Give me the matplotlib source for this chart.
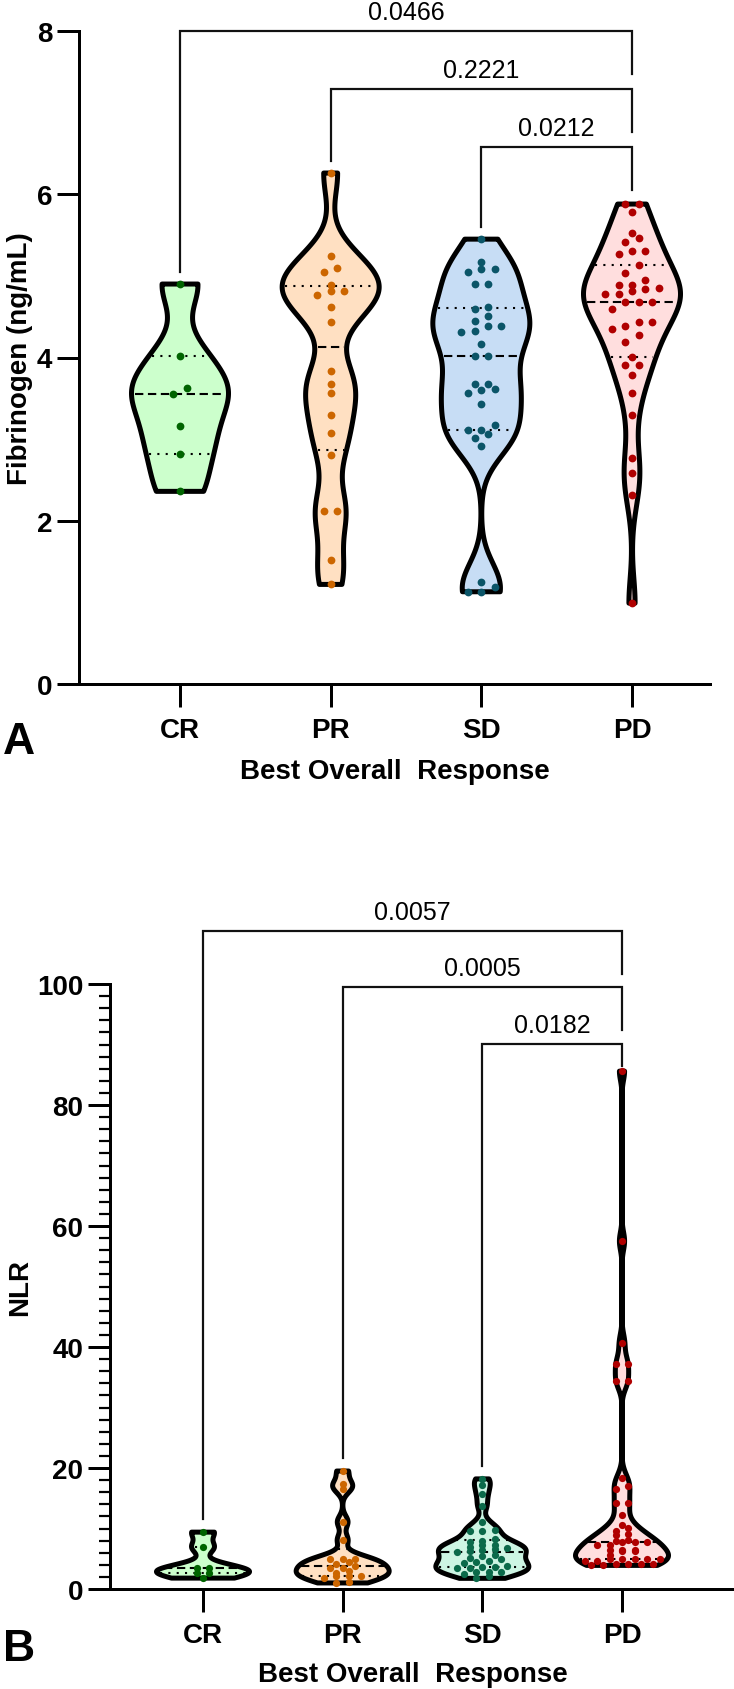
import numpy as np
import matplotlib
matplotlib.use("Agg")
import matplotlib.pyplot as plt

plt.rcParams['font.family'] = ['Liberation Sans', 'DejaVu Sans']

# ---------------- data ----------------
categories = ["CR", "PR", "SD", "PD"]

fib_cr = [4.90, 4.02, 3.63, 3.55, 3.16, 2.82, 2.36]
fib_pr = [6.26, 5.24, 5.10, 5.05, 4.89, 4.81, 4.81, 4.77, 4.62, 4.43, 3.83, 3.68,
          3.57, 3.30, 3.08, 2.80, 2.12, 2.12, 1.52, 1.22]
fib_sd = [5.45, 5.17, 5.08, 5.05, 5.08, 4.90, 4.90, 4.62, 4.60, 4.51, 4.45, 4.38,
          4.38, 4.32, 4.31, 4.16, 4.02, 4.02, 3.68, 3.68, 3.62, 3.60, 3.57, 3.43,
          3.17, 3.11, 3.11, 3.06, 3.01, 2.91, 1.25, 1.19, 1.13, 1.13]
fib_pd = [5.88, 5.88, 5.78, 5.53, 5.46, 5.41, 5.31, 5.31, 5.27, 5.13, 5.04, 4.95,
          4.89, 4.89, 4.85, 4.84, 4.81, 4.78, 4.78, 4.68, 4.68, 4.68, 4.59, 4.44,
          4.43, 4.39, 4.35, 4.28, 4.19, 4.01, 3.91, 3.91, 3.79, 3.57, 3.29, 2.77,
          2.58, 2.31, 0.99]

nlr_cr = [9.4, 6.9, 3.4, 3.4, 2.7, 2.7, 1.8]
nlr_pr = [19.5, 17.4, 16.6, 11.1, 8.1, 5.0, 5.0, 5.0, 4.5, 4.1, 3.75, 3.4, 3.4,
          3.0, 2.7, 2.2, 2.2, 2.1, 1.8, 1.2, 1.0]
nlr_sd = [18.2, 17.2, 15.7, 13.8, 11.0, 9.8, 9.6, 9.6, 8.2, 8.0, 7.8, 7.3, 7.2,
          6.9, 6.7, 6.6, 6.4, 6.3, 6.1, 5.6, 5.4, 5.1, 4.96, 4.7, 4.4, 4.3, 3.75,
          3.6, 3.58, 3.5, 3.4, 2.75, 2.75, 2.75, 2.48, 2.2, 1.76]
nlr_pd = [85.6, 57.5, 40.7, 37.2, 37.2, 34.4, 34.4, 18.3, 17.0, 16.6, 14.2, 14.2,
          12.3, 10.5, 10.1, 9.6, 9.1, 8.9, 8.1, 8.0, 7.7, 7.7, 7.7, 7.2, 7.2, 6.5,
          6.5, 6.5, 6.2, 6.2, 5.6, 4.96, 4.96, 4.96, 4.96, 4.96, 4.7, 4.7, 4.1,
          4.1, 4.1, 4.1, 3.9, 3.9]

fib_pvals = ["0.0466", "0.2221", "0.0212"]
nlr_pvals = ["0.0057", "0.0005", "0.0182"]
fib_yticks = [0, 2, 4, 6, 8]
nlr_yticks = [0, 20, 40, 60, 80, 100]

# ---------------- styles ----------------
fills_top = ["#CCFFCC", "#FFE0C2", "#C7DDF5", "#FFDEDE"]
dots_top = ["#006400", "#CC6600", "#0B5568", "#B00000"]
fills_bot = ["#CCFFCC", "#FFE0C2", "#CDF5E3", "#FFDEDE"]
dots_bot = ["#006400", "#CC6600", "#0B6A4A", "#B00000"]

W, H = 734, 1690
DPI = 100
fig = plt.figure(figsize=(W / DPI, H / DPI), dpi=DPI)


def px2pt(p):
    return p * 72.0 / DPI


def add_axes_px(left, right, top, bottom):
    return fig.add_axes([left / W, 1 - bottom / H, (right - left) / W, (bottom - top) / H])


def style_axes(ax, xl, xr, ymax, yticks, minor=None):
    ax.set_xlim(xl, xr)
    ax.set_ylim(0, ymax)
    for s in ["top", "right"]:
        ax.spines[s].set_visible(False)
    for s in ["left", "bottom"]:
        ax.spines[s].set_linewidth(px2pt(3))
    ax.set_xticks(range(len(categories)))
    ax.set_xticklabels(categories, fontsize=20, fontweight="bold")
    ax.set_yticks(yticks)
    ax.set_yticklabels([str(t) for t in yticks], fontsize=20, fontweight="bold")
    ax.tick_params(axis="x", length=px2pt(23), width=px2pt(3), pad=7)
    ax.tick_params(axis="y", which="major", length=px2pt(22), width=px2pt(3), pad=3.5)
    if minor is not None:
        ax.yaxis.set_minor_locator(matplotlib.ticker.MultipleLocator(minor))
        ax.tick_params(axis="y", which="minor", length=px2pt(11), width=px2pt(2.2))
    ax.patch.set_alpha(0)


def violin(ax, pos, vals, bw, half_w, fill, dot, px_per_x, px_per_y, spacing_px,
           group_px, msize):
    v = np.asarray(vals, float)
    y = np.linspace(v.min(), v.max(), 600)
    d = np.exp(-0.5 * ((y[:, None] - v[None, :]) / bw) ** 2).sum(axis=1)
    hw = d / d.max() * half_w
    xs = np.concatenate([pos - hw, (pos + hw)[::-1]])
    ys = np.concatenate([y, y[::-1]])
    ax.fill(xs, ys, facecolor=fill, edgecolor="black", lw=px2pt(5),
            joinstyle="round", zorder=2)
    q1, med, q3 = np.percentile(v, [25, 50, 75], method="weibull")
    for q, ls in [(q1, (0, (1, 3))), (med, (0, (4, 2.2))), (q3, (0, (1, 3)))]:
        h = np.interp(q, y, hw) - 3.0 / px_per_x
        ax.plot([pos - h, pos + h], [q, q], color="black", lw=1.5, ls=ls, zorder=3)
    # swarm offsets
    order = np.argsort(v)
    offs = np.zeros(len(v))
    hgrp = group_px / px_per_y
    groups, cur, start = [], [order[0]], v[order[0]]
    for i in order[1:]:
        if v[i] - start < hgrp:
            cur.append(i)
        else:
            groups.append(cur)
            cur, start = [i], v[i]
    groups.append(cur)
    for g in groups:
        n = len(g)
        for k, i in enumerate(g):
            offs[i] = (k - (n - 1) / 2.0) * spacing_px / px_per_x
    ax.plot(pos + offs, v, "o", color=dot, ms=msize, mew=0, zorder=5, clip_on=False)


def bracket(ax, x1, x2, y, y1_end, y2_end, text, fs=18):
    ax.plot([x1, x1, x2, x2], [y1_end, y, y, y2_end], color="#111111",
            lw=px2pt(2.2), clip_on=False, zorder=6, solid_joinstyle="miter")
    ax.annotate(text, xy=((x1 + x2) / 2.0, y), xytext=(0, px2pt(12)),
                textcoords="offset points", ha="center", va="baseline",
                fontsize=fs, annotation_clip=False)


# ---------------- Panel A ----------------
axA_l, axA_r, axA_t, axA_b = 79, 710, 32, 685
cat0A, cat3A = 180, 632
sA = (cat3A - cat0A) / 3.0
axA = add_axes_px(axA_l, axA_r, axA_t, axA_b)
style_axes(axA, -(cat0A - axA_l) / sA, 3 + (axA_r - cat3A) / sA, 8, fib_yticks)
pyA = (axA_b - axA_t) / 8.0
fib_data = [fib_cr, fib_pr, fib_sd, fib_pd]
for i, vals in enumerate(fib_data):
    violin(axA, i, vals, 0.3, 48.5 / sA, fills_top[i], dots_top[i], sA, pyA,
           13.3, 8.0, 5.6)

gapA = 12 / pyA
legA = 43 / pyA
topsA = [max(v) for v in fib_data]
levelsA = [8.0, 7.29, 6.58]
for j, (lvl, p) in enumerate(zip(levelsA, fib_pvals)):
    bracket(axA, j, 3, lvl, topsA[j] + gapA, max(lvl - legA, topsA[3] + gapA), p)

# ---------------- Panel B ----------------
axB_l, axB_r, axB_t, axB_b = 110, 733, 985, 1590
cat0B, cat3B = 203, 622
sB = (cat3B - cat0B) / 3.0
axB = add_axes_px(axB_l, axB_r, axB_t, axB_b)
style_axes(axB, -(cat0B - axB_l) / sB, 3 + (axB_r - cat3B) / sB, 100, nlr_yticks,
           minor=2)
pyB = (axB_b - axB_t) / 100.0
nlr_data = [nlr_cr, nlr_pr, nlr_sd, nlr_pd]
bwsB = [1.0, 1.0, 1.0, 1.5]
for i, vals in enumerate(nlr_data):
    violin(axB, i, vals, bwsB[i], 46.5 / sB, fills_bot[i], dots_bot[i], sB, pyB,
           12.5, 4.0, 5.2)

gapB = 13 / pyB
legB = 43 / pyB
topsB = [max(v) for v in nlr_data]
levelsB = [108.8, 99.5, 90.1]
for j, (lvl, p) in enumerate(zip(levelsB, nlr_pvals)):
    bracket(axB, j, 3, lvl, topsB[j] + gapB, max(lvl - legB, topsB[3] + 0.4 * gapB), p)

# ---------------- labels ----------------
def ftext(xp, yp, s, **kw):
    fig.text(xp / W, 1 - yp / H, s, **kw)

ftext(20, (axA_t + axA_b) / 2, "Fibrinogen (ng/mL)", rotation=90, ha="center",
      va="center", fontsize=20, fontweight="bold")
ftext(20, (axB_t + axB_b) / 2, "NLR", rotation=90, ha="center", va="center",
      fontsize=20, fontweight="bold")
ftext((axA_l + axA_r) / 2, 772, "Best Overall  Response", ha="center", va="center",
      fontsize=20, fontweight="bold")
ftext((110 + 715) / 2, 1675, "Best Overall  Response", ha="center", va="center",
      fontsize=20, fontweight="bold")
ftext(19, 743, "A", ha="center", va="center", fontsize=32, fontweight="bold")
ftext(19, 1650, "B", ha="center", va="center", fontsize=32, fontweight="bold")

fig.savefig("out.png", dpi=DPI)
